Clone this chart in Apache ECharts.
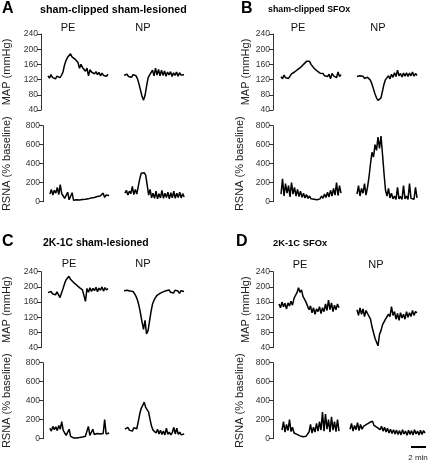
<!DOCTYPE html>
<html>
<head>
<meta charset="utf-8">
<script src="https://cdn.jsdelivr.net/npm/echarts@6/dist/echarts.min.js"></script>
<style>
html,body{margin:0;padding:0;background:#fff;}
#chart{width:429px;height:462px;}
</style>
</head>
<body>
<div id="chart"></div>
<script>
// ---------- DATA (time in minutes from axis, sampled every 0.2 min) ----------
const timeStep = 0.2;
const panelTitles = ["sham-clipped sham-lesioned", "sham-clipped SFOx", "2K-1C sham-lesioned", "2K-1C SFOx"];
const panelLetters = ["A", "B", "C", "D"];
const drugLabels = ["PE", "NP"];
const mapTicks = {min: 40, max: 240, interval: 40};
const rsnaTicks = {min: 0, max: 800, interval: 200};
const scaleBarMinutes = [18.4, 20.4];
const scaleBarLabel = "2 min";

// segment start times (min)
const startMapPE  = [0.93, 1.07, 0.93, 0.8];
const startMapNP  = [11.07, 11.2, 11.07, 11.2];
const startRsnaPE = [0.93, 1.07, 0.93, 1.2];
const startRsnaNP = [11.07, 11.2, 11.07, 10.27];

// Panel A
const A_MAP_PE = [130,124,133,126,131,122,129,127,125,131,140,158,170,178,183,188,180,185,174,170,165,150,160,152,155,142,150,130,146,140,143,135,141,133,139,130,137,131,136,129,134];
const A_MAP_NP = [131,127,134,128,132,126,133,129,130,122,108,92,76,66,78,102,124,132,128,145,130,150,132,147,130,145,131,143,129,140,132,141,128,138,131,140,129,138,132,137,133];
const A_RSNA_PE = [80,130,70,120,90,150,75,180,85,60,35,25,100,20,25,95,15,12,20,14,18,15,22,18,25,20,30,25,40,28,45,35,55,38,60,40,90,45,70,50,65];
const A_RSNA_NP = [90,120,70,110,85,160,75,130,80,100,240,300,285,305,280,180,70,130,40,90,35,110,30,85,40,120,35,90,45,100,30,95,40,110,35,90,45,100,40,85,50];
// Panel B
const B_MAP_PE = [128,122,132,125,130,123,129,135,132,140,138,146,145,152,155,160,162,168,172,168,160,156,150,147,143,140,137,132,136,130,135,128,134,122,136,130,134,125,140,128,133];
const B_MAP_NP = [128,124,130,125,129,123,128,126,124,118,108,95,82,72,65,63,72,90,108,120,125,130,122,134,126,138,128,145,130,136,127,137,129,138,128,137,130,140,129,136,131];
const B_RSNA_PE = [80,240,60,190,90,170,50,200,80,150,60,130,55,110,45,90,40,75,35,60,30,50,25,45,20,40,30,60,35,80,45,100,50,120,60,140,70,200,65,170,90];
const B_RSNA_NP = [80,170,60,140,90,190,70,150,260,400,520,470,600,540,680,560,690,500,300,120,60,140,40,90,30,60,25,150,30,55,25,170,30,60,25,190,35,50,25,150,40];
// Panel C
const C_MAP_PE = [185,180,188,182,186,179,187,183,172,176,195,208,218,222,228,220,216,212,208,205,202,198,200,192,197,162,196,186,198,188,196,190,199,187,197,191,200,189,198,192,196];
const C_MAP_NP = [190,186,191,187,189,185,188,182,175,165,150,130,108,88,112,76,85,110,135,155,165,172,178,175,183,180,187,183,190,185,192,186,190,184,191,186,189,183,190,185,188];
const C_RSNA_PE = [110,80,130,95,125,85,140,100,180,90,60,35,30,100,25,12,8,5,8,10,12,15,18,22,25,30,130,35,40,100,45,40,55,45,50,45,55,200,50,55,60];
const C_RSNA_NP = [100,85,120,90,110,80,115,95,105,180,260,320,350,385,330,340,280,200,130,90,110,60,100,50,90,45,80,40,110,45,70,40,65,120,50,110,45,70,40,60,50];
// Panel D
const D_MAP_PE = [155,145,160,148,157,142,158,150,162,152,170,178,185,198,186,192,175,180,160,165,140,150,132,145,128,142,135,148,130,145,135,155,138,165,140,158,135,152,140,155,145];
const D_MAP_NP = [140,125,145,128,142,122,138,130,135,115,95,80,65,70,45,75,85,100,95,115,110,128,122,148,125,135,115,130,112,132,118,128,115,135,120,132,122,138,125,135,132];
const D_RSNA_PE = [90,180,70,150,85,200,75,120,60,80,45,60,30,35,20,15,25,40,70,150,60,120,70,160,80,180,90,280,80,260,100,200,70,230,90,180,75,200,80];
const D_RSNA_NP = [100,160,80,140,95,170,85,150,100,130,110,150,130,170,150,185,140,160,120,140,95,130,80,120,70,110,60,100,55,95,50,90,45,85,40,95,50,80,35,90,45,85,40,95,50,80,40,90,45,85,60];

const mapData  = [[A_MAP_PE, A_MAP_NP], [B_MAP_PE, B_MAP_NP], [C_MAP_PE, C_MAP_NP], [D_MAP_PE, D_MAP_NP]];
const rsnaData = [[A_RSNA_PE, A_RSNA_NP], [B_RSNA_PE, B_RSNA_NP], [C_RSNA_PE, C_RSNA_NP], [D_RSNA_PE, D_RSNA_NP]];

// ---------- LAYOUT ----------
const FONT = "'Liberation Sans', Arial, sans-serif";
const layout = [
  {axisX: 41,  mapTop: 34,    rsnaTop: 125.7, mapGap: 29, rsnaGap: 31, letterX: 2,   titleX: 40,  titleY: 10,  titleSize: 10.7, drugY: 28, peX: 68,  npX: 143},
  {axisX: 273, mapTop: 34,    rsnaTop: 125.7, mapGap: 18, rsnaGap: 28, letterX: 241, titleX: 268, titleY: 10,  titleSize: 8.8,  drugY: 28, peX: 298, npX: 378},
  {axisX: 41,  mapTop: 271.7, rsnaTop: 362.7, mapGap: 29, rsnaGap: 31, letterX: 2,   titleX: 43,  titleY: 243, titleSize: 10.4, drugY: 264, peX: 69, npX: 143},
  {axisX: 273, mapTop: 271.7, rsnaTop: 362.7, mapGap: 18, rsnaGap: 28, letterX: 236, titleX: 273, titleY: 243, titleSize: 9.4,  drugY: 265, peX: 300, npX: 376}
];
const PXPERMIN = 7.5, XMAX = 20.4, GH = 76;

const grids = [], xAxes = [], yAxes = [], series = [], graphics = [];

function yAxisCfg(idx, ticks, name, gap) {
  return {
    gridIndex: idx, type: 'value', min: ticks.min, max: ticks.max, interval: ticks.interval,
    axisLine: {show: true, lineStyle: {color: '#333', width: 1}},
    axisTick: {show: true, length: 4, lineStyle: {color: '#333'}},
    axisLabel: {fontSize: 8.5, color: '#333', margin: 3, fontFamily: FONT},
    splitLine: {show: false},
    name: name, nameLocation: 'middle', nameGap: gap,
    nameTextStyle: {fontSize: 11, color: '#222', fontFamily: FONT}
  };
}
function seg(values, start) {
  return values.map((v, i) => [start + i * timeStep, v]);
}
function line(idx, values, start) {
  series.push({
    type: 'line', xAxisIndex: idx, yAxisIndex: idx, data: seg(values, start),
    showSymbol: false, symbol: 'none', lineStyle: {color: '#000', width: 1.5}, silent: true
  });
}

layout.forEach((L, p) => {
  const gMap = 2 * p, gRsna = 2 * p + 1;
  grids.push({left: L.axisX, top: L.mapTop, width: XMAX * PXPERMIN, height: GH});
  grids.push({left: L.axisX, top: L.rsnaTop, width: XMAX * PXPERMIN, height: GH});
  [gMap, gRsna].forEach(g => xAxes.push({gridIndex: g, type: 'value', min: 0, max: XMAX, show: false}));
  yAxes.push(yAxisCfg(gMap, mapTicks, 'MAP (mmHg)', L.mapGap));
  yAxes.push(yAxisCfg(gRsna, rsnaTicks, 'RSNA (% baseline)', L.rsnaGap));
  line(gMap, mapData[p][0], startMapPE[p]);
  line(gMap, mapData[p][1], startMapNP[p]);
  line(gRsna, rsnaData[p][0], startRsnaPE[p]);
  line(gRsna, rsnaData[p][1], startRsnaNP[p]);

  graphics.push({type: 'text', left: L.letterX, top: L.titleY - 9,
    style: {text: panelLetters[p], font: 'bold 16px ' + FONT, fill: '#000'}});
  graphics.push({type: 'text', x: L.titleX, y: L.titleY,
    style: {text: panelTitles[p], font: 'bold ' + L.titleSize + 'px ' + FONT, fill: '#000', textVerticalAlign: 'middle'}});
  graphics.push({type: 'text', x: L.peX, y: L.drugY,
    style: {text: drugLabels[0], font: '11px ' + FONT, fill: '#111', textAlign: 'center', textVerticalAlign: 'middle'}});
  graphics.push({type: 'text', x: L.npX, y: L.drugY,
    style: {text: drugLabels[1], font: '11px ' + FONT, fill: '#111', textAlign: 'center', textVerticalAlign: 'middle'}});
});

// scale bar grid (shares panel D time scale)
const sbIdx = grids.length;
grids.push({left: layout[3].axisX, top: 445, width: XMAX * PXPERMIN, height: 4});
xAxes.push({gridIndex: sbIdx, type: 'value', min: 0, max: XMAX, show: false});
yAxes.push({gridIndex: sbIdx, type: 'value', min: 0, max: 1, show: false});
series.push({
  type: 'line', xAxisIndex: sbIdx, yAxisIndex: sbIdx,
  data: scaleBarMinutes.map(t => [t, 0.5]), symbol: 'none', lineStyle: {color: '#000', width: 2}, silent: true
});
graphics.push({type: 'text', x: 418, y: 458,
  style: {text: scaleBarLabel, font: '8px ' + FONT, fill: '#222', textAlign: 'center', textVerticalAlign: 'middle'}});

const chart = echarts.init(document.getElementById('chart'), null, {renderer: 'canvas'});
chart.setOption({
  animation: false,
  backgroundColor: '#fff',
  grid: grids, xAxis: xAxes, yAxis: yAxes, series: series, graphic: graphics
});
</script>
</body>
</html>
